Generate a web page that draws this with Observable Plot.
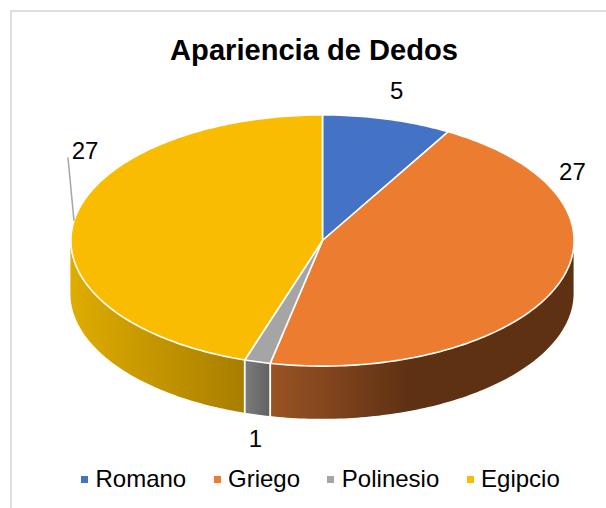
<!DOCTYPE html>
<html>
<head>
<meta charset="utf-8">
<script src="https://cdn.jsdelivr.net/npm/d3@7"></script>
<script src="https://cdn.jsdelivr.net/npm/@observablehq/plot@0.6"></script>
<style>
  html, body { margin: 0; padding: 0; background: #fff; overflow: hidden; }
  body { width: 606px; height: 508px; position: relative; font-family: "Liberation Sans", Arial, sans-serif; color: #000; }
  #frame { position: absolute; left: 10px; top: 10px; width: 640px; height: 540px; border: 2px solid #dedede; box-sizing: border-box; }
  #title { position: absolute; left: 0; width: 628px; top: 33px; text-align: center; font-size: 29.1px; font-weight: bold; line-height: 34px; }
  #chart { position: absolute; left: 0; top: 70px; }
  #chart svg { display: block; overflow: visible; background: transparent; }
  #legend { position: absolute; left: 81px; top: 465px; display: flex; font-size: 24px; line-height: 28px; white-space: nowrap; }
  #legend .item { display: flex; align-items: center; margin-right: 27.3px; }
  #legend .swatch { width: 7px; height: 7px; margin-right: 7.5px; }
</style>
</head>
<body>
<div id="frame"></div>
<div id="title">Apariencia de Dedos</div>
<div id="chart"></div>
<div id="legend"></div>
<script>
// Data
const categories = ["Romano", "Griego", "Polinesio", "Egipcio"];
const values = [5, 27, 1, 27];
const colors = ["#4472c4", "#ec7c30", "#a5a5a5", "#fabc00"];

// Side-wall shading (left colour, mid colour, offset of mid colour)
const sideStops = {
  Griego: [["0%", "#9a5424"], ["46%", "#5e3113"], ["100%", "#5e3113"]],
  Polinesio: [["0%", "#7c7c7c"], ["100%", "#626262"]],
  Egipcio: [["0%", "#dfac00"], ["100%", "#a87e00"]]
};

// Label placement relative to each slice's rim point, in pixels
const labelDx = [9, 15, -2, 11];
const labelDy = [-28, -113, 77, -70];

// Pie disc is tilted: the wall height in units of the vertical radius
const depth = 0.424;

const total = d3.sum(values);
let run = 0;
const slices = categories.map((name, i) => {
  const start = run / total * 360;
  run += values[i];
  return {name, value: values[i], start, end: run / total * 360, mid: (start + run / total * 360) / 2, i};
});

const rad = d => d * Math.PI / 180;
const rim = a => ({x: Math.sin(rad(a)), y: Math.cos(rad(a))});
const arc = (a0, a1) => {
  const n = Math.max(2, Math.ceil(a1 - a0));
  return d3.range(n + 1).map(k => rim(a0 + (a1 - a0) * k / n));
};

// Top faces: closed wedge polygons
const faces = slices.flatMap(s => [{x: 0, y: 0}, ...arc(s.start, s.end), {x: 0, y: 0}].map(p => ({...p, name: s.name})));

// Visible wall of a slice: the part of the arc at the front of the disc
const wall = s => {
  const a0 = Math.max(s.start, 90), a1 = Math.min(s.end, 270);
  return a1 > a0 ? arc(a0, a1).map(p => ({x: p.x, top: p.y, bottom: p.y - depth})) : [];
};

// White separators between walls
const seams = slices.filter(s => s.start > 90 && s.start < 270).map(s => {
  const p = rim(s.start);
  return {x: p.x, top: p.y, bottom: p.y - depth};
});

const labels = slices.map(s => ({...rim(s.mid), value: s.value, i: s.i}));
const idOf = name => "side-" + name.toLowerCase();

// Defs for the gradients on the walls
function gradients() {
  const ns = "http://www.w3.org/2000/svg";
  const defs = document.createElementNS(ns, "defs");
  Object.entries(sideStops).forEach(([name, stops]) => {
    const g = document.createElementNS(ns, "linearGradient");
    g.setAttribute("id", idOf(name));
    stops.forEach(([o, c]) => {
      const st = document.createElementNS(ns, "stop");
      st.setAttribute("offset", o);
      st.setAttribute("stop-color", c);
      g.appendChild(st);
    });
    defs.appendChild(g);
  });
  return defs;
}

const leaderSlice = labels[3];

const plot = Plot.plot({
  width: 606,
  height: 380,
  margin: 0,
  x: {domain: [-1, 1], range: [70.4, 573.6], axis: null},
  y: {domain: [-1, 1], range: [295.6, 44.4], axis: null},
  color: {domain: categories, range: colors, legend: false},
  style: {background: "transparent", fontFamily: "'Liberation Sans', Arial, sans-serif", overflow: "visible"},
  marks: [
    gradients,
    ...slices.filter(s => sideStops[s.name]).map(s =>
      Plot.areaY(wall(s), {x: "x", y1: "top", y2: "bottom", fill: `url(#${idOf(s.name)})`})
    ),
    Plot.link(seams, {x1: "x", x2: "x", y1: "top", y2: "bottom", stroke: "white", strokeWidth: 1.8}),
    Plot.line(faces, {x: "x", y: "y", z: "name", fill: "name", stroke: "white", strokeWidth: 1.6, strokeLinejoin: "round", curve: "linear"}),
    Plot.link([leaderSlice], {
      x1: "x", y1: "y",
      x2: d => d.x - 0.024, y2: d => d.y + 0.504,
      stroke: "#a6a6a6", strokeWidth: 1.5
    }),
    ...labels.map(d =>
      Plot.text([d], {
        x: "x", y: "y", text: "value",
        dx: labelDx[d.i], dy: labelDy[d.i],
        fontSize: 24, fill: "#000", textAnchor: "middle", lineAnchor: "middle"
      })
    )
  ]
});
document.getElementById("chart").appendChild(plot);

// Legend
const legend = d3.select("#legend");
categories.forEach((name, i) => {
  const item = legend.append("div").attr("class", "item");
  item.append("span").attr("class", "swatch").style("background", colors[i]);
  item.append("span").text(name);
});
</script>
</body>
</html>
